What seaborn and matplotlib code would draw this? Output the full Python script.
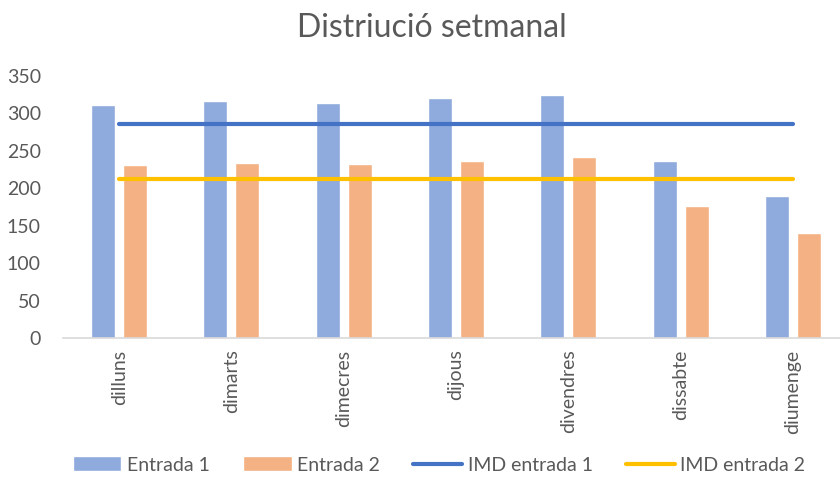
import pandas as pd
import matplotlib.pyplot as plt
import seaborn as sns
from matplotlib.patches import Patch
from matplotlib.lines import Line2D

# Data
days = ['dilluns', 'dimarts', 'dimecres', 'dijous', 'divendres', 'dissabte', 'diumenge']
entrada_1 = [311, 316, 314, 321, 325, 237, 190]
entrada_2 = [231, 234, 232, 237, 242, 176, 140]
imd_entrada_1 = [286, 286, 286, 286, 286, 286, 286]
imd_entrada_2 = [212, 212, 212, 212, 212, 212, 212]

series_names = ['Entrada 1', 'Entrada 2']
bar_colors = ['#8FAADC', '#F4B183']
line_colors = ['#4472C4', '#FFC000']
text_color = '#595959'

sns.set_theme(style="white")
plt.rcParams['font.family'] = ['Lato', 'DejaVu Sans']

df = pd.DataFrame({
    'dia': days * 2,
    'valor': entrada_1 + entrada_2,
    'serie': [series_names[0]] * len(days) + [series_names[1]] * len(days),
})

fig = plt.figure(figsize=(8.4, 4.86), dpi=100)
ax = fig.add_axes([63 / 840, 1 - 338.3 / 486, 777 / 840, 262.3 / 486])

sns.barplot(data=df, x='dia', y='valor', hue='serie', order=days,
            hue_order=series_names, palette=bar_colors, width=0.57, gap=0.25,
            saturation=1, legend=False, ax=ax)

sns.pointplot(x=days, y=imd_entrada_1, order=days, color=line_colors[0],
              marker='', linestyle='-', linewidth=3, ax=ax)
sns.pointplot(x=days, y=imd_entrada_2, order=days, color=line_colors[1],
              marker='', linestyle='-', linewidth=3, ax=ax)
for ln in ax.lines:
    ln.set_solid_capstyle('round')

ax.set_ylim(0, 350)
ax.set_xlim(-0.5, 6.42)
ax.set_yticks(range(0, 351, 50))
ax.set_xlabel('')
ax.set_ylabel('')
ax.tick_params(axis='y', length=0, pad=16, labelsize=14, labelcolor=text_color)
ax.tick_params(axis='x', length=0, pad=8, labelsize=14, labelcolor=text_color)
plt.setp(ax.get_xticklabels(), rotation=90, va='top', ha='center')

for s in ['top', 'right', 'left']:
    ax.spines[s].set_visible(False)
ax.spines['bottom'].set_color('#D9D9D9')
ax.spines['bottom'].set_linewidth(1.2)

fig.suptitle('Distriució setmanal', x=432 / 840, y=1 - 28 / 486, va='center',
             fontsize=23, color=text_color)

handles = [
    Patch(facecolor=bar_colors[0], label='Entrada 1'),
    Patch(facecolor=bar_colors[1], label='Entrada 2'),
    Line2D([], [], color=line_colors[0], linewidth=3, label='IMD entrada 1'),
    Line2D([], [], color=line_colors[1], linewidth=3, label='IMD entrada 2'),
]
leg = fig.legend(handles=handles, loc='center', bbox_to_anchor=(439 / 840, 1 - 465 / 486),
                 ncol=4, frameon=False, fontsize=14, handlelength=2.5,
                 handleheight=0.8, handletextpad=0.3, columnspacing=1.7)
for t in leg.get_texts():
    t.set_color(text_color)

fig.savefig('out.png', dpi=100)
